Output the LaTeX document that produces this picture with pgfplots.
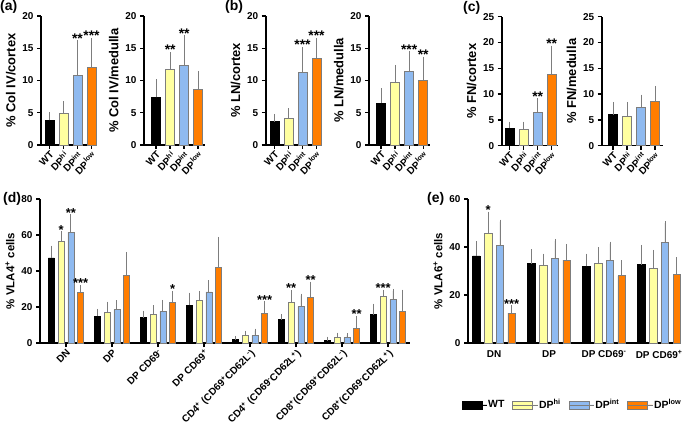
\documentclass[border=0pt]{standalone}
\usepackage{fontspec}
\setmainfont{Liberation Sans}
\usepackage{pgfplots}
\usepackage{pgfplotstable}
\pgfplotsset{compat=1.18}

\definecolor{chi}{RGB}{255,255,160}
\definecolor{cint}{RGB}{143,186,240}
\definecolor{clow}{RGB}{255,125,0}
\definecolor{cerr}{RGB}{125,125,125}

\tikzset{
  star/.style={anchor=south, inner sep=0pt, yshift=-1bp, font=\bfseries\fontsize{14}{14}\selectfont},
  starsm/.style={star, font=\bfseries\fontsize{13}{13}\selectfont},
}

\pgfplotsset{
  panel/.style={
    scale only axis, ybar, ymin=0, clip=false,
    axis lines*=left, axis line style={line width=1.6bp, -},
    tick align=outside, tick pos=left, major tick length=4bp,
    tick style={black, line width=1.4bp},
    /pgf/number format/assume math mode=true,
    ticklabel style={font=\bfseries\fontsize{10}{11}\selectfont},
    ylabel style={font=\bfseries\fontsize{13}{14}\selectfont},
  },
  small/.style={
    panel, height=129bp, bar width=9bp, bar shift=0pt,
    xtick={0,1,2,3},
    xticklabels={WT, DP\textsuperscript{hi}, DP\textsuperscript{int}, DP\textsuperscript{low}},
    xticklabel style={rotate=45, anchor=north east, inner sep=1bp},
  },
  eb/.style={error bars/y dir=plus, error bars/y explicit,
    error bars/error bar style={cerr, line width=0.8bp},
    error bars/error mark options={cerr, line width=0.8bp, mark size=2bp}},
  wt/.style={fill=black, draw=black, line width=0.7bp, eb},
  hi/.style={fill=chi, draw=cerr, line width=0.7bp, eb},
  int/.style={fill=cint, draw=cerr, line width=0.7bp, eb},
  low/.style={fill=clow, draw=cerr, line width=0.7bp, eb},
}

% panel (d): % VLA4+ cells, mean and SD (upper)
\pgfplotstableread{
g wt ewt hi ehi int eint low elow
0 47.3 5.7 56.6 4.3 61.4 8.9 28.0 3.2
1 15.0 2.8 17.1 4.8 18.6 4.0 37.7 11.8
2 14.1 2.8 16.0 4.0 17.6 5.2 22.6 5.2
3 21.0 5.9 23.7 4.1 28.4 5.4 42.1 15.8
4 1.9 0.9 4.1 1.7 4.3 2.6 16.3 5.8
5 13.0 2.0 22.4 6.0 20.2 6.1 25.4 7.6
6 1.5 0.9 3.0 1.6 3.0 1.3 8.3 5.6
7 15.8 5.0 25.8 2.8 24.1 4.8 17.4 11.2
}\dtab

% panel (e): % VLA6+ cells
\pgfplotstableread{
g wt ewt hi ehi int eint low elow
0 36.3 5.2 45.8 8.1 40.7 9.9 12.4 2.4
1 33.1 5.2 32.3 4.1 35.2 7.4 34.5 6.0
2 31.9 4.5 33.1 5.9 34.3 7.1 28.0 5.6
3 32.7 7.4 31.2 6.8 41.8 8.1 28.7 6.1
}\etab

\begin{document}
\begin{tikzpicture}

% ---------- (a)
\begin{axis}[small, at={(41bp,287bp)}, anchor=south west, width=56bp,
  xmin=-0.607, xmax=3.393, ymax=20, ytick={0,5,...,20}, ylabel={\% Col IV/cortex}]
\addplot[wt] coordinates {(0,3.8) +- (0,1.0)};
\addplot[hi] coordinates {(1,4.9) +- (0,1.6)};
\addplot[int] coordinates {(2,10.8) +- (0,5.1)};
\addplot[low] coordinates {(3,12.1) +- (0,4.2)};
\node[star] at (axis cs:2,15.9) {**};
\node[star] at (axis cs:3,16.3) {***};
\end{axis}

\begin{axis}[small, at={(144bp,287bp)}, anchor=south west, width=61bp,
  xmin=-0.871, xmax=3.486, ymax=20, ytick={0,5,...,20}, ylabel={\% Col IV/medulla}]
\addplot[wt] coordinates {(0,7.4) +- (0,2.5)};
\addplot[hi] coordinates {(1,11.7) +- (0,2.4)};
\addplot[int] coordinates {(2,12.4) +- (0,4.3)};
\addplot[low] coordinates {(3,8.6) +- (0,2.6)};
\node[star] at (axis cs:1,14.1) {**};
\node[star] at (axis cs:2,16.7) {**};
\end{axis}

% ---------- (b)
\begin{axis}[small, at={(265.7bp,287bp)}, anchor=south west, width=56bp,
  xmin=-0.629, xmax=3.371, ymax=20, ytick={0,5,...,20}, ylabel={\% LN/cortex}]
\addplot[wt] coordinates {(0,3.6) +- (0,0.9)};
\addplot[hi] coordinates {(1,4.2) +- (0,1.2)};
\addplot[int] coordinates {(2,11.2) +- (0,3.7)};
\addplot[low] coordinates {(3,13.5) +- (0,2.8)};
\node[star] at (axis cs:2,14.9) {***};
\node[star] at (axis cs:3,16.3) {***};
\end{axis}

\begin{axis}[small, at={(369bp,287bp)}, anchor=south west, width=61bp,
  xmin=-0.871, xmax=3.486, ymax=20, ytick={0,5,...,20}, ylabel={\% LN/medulla}]
\addplot[wt] coordinates {(0,6.5) +- (0,2.0)};
\addplot[hi] coordinates {(1,9.7) +- (0,2.4)};
\addplot[int] coordinates {(2,11.4) +- (0,2.8)};
\addplot[low] coordinates {(3,10.1) +- (0,3.3)};
\node[star] at (axis cs:2,14.2) {***};
\node[star] at (axis cs:3,13.4) {**};
\end{axis}

% ---------- (c)
\begin{axis}[small, at={(501.7bp,286.3bp)}, anchor=south west, width=56.6bp,
  xmin=-0.571, xmax=3.471, ymax=25, ytick={0,5,...,25}, ylabel={\% FN/cortex}]
\addplot[wt] coordinates {(0,3.4) +- (0,0.9)};
\addplot[hi] coordinates {(1,3.2) +- (0,1.1)};
\addplot[int] coordinates {(2,6.5) +- (0,2.3)};
\addplot[low] coordinates {(3,13.9) +- (0,5.1)};
\node[star] at (axis cs:2,8.8) {**};
\node[star] at (axis cs:3,19.0) {**};
\end{axis}

\begin{axis}[small, at={(601.7bp,286.3bp)}, anchor=south west, width=61.3bp,
  xmin=-0.807, xmax=3.571, ymax=25, ytick={0,5,...,25}, ylabel={\% FN/medulla}]
\addplot[wt] coordinates {(0,6.0) +- (0,2.1)};
\addplot[hi] coordinates {(1,5.7) +- (0,2.4)};
\addplot[int] coordinates {(2,7.5) +- (0,2.0)};
\addplot[low] coordinates {(3,8.5) +- (0,2.7)};
\end{axis}

% ---------- (d)
\begin{axis}[panel, at={(40bp,89bp)}, anchor=south west, width=370bp, height=144bp,
  bar width=0.13, xmin=-0.565, xmax=7.478, ymax=80, ytick={0,20,...,80},
  xtick={0,...,7},
  xticklabels={{DN},{DP},{DP CD69\textsuperscript{-}},{DP CD69\textsuperscript{+}},
    {CD4\textsuperscript{+} (CD69\textsuperscript{+}CD62L\textsuperscript{-})},
    {CD4\textsuperscript{+} (CD69\textsuperscript{-}CD62L\textsuperscript{+})},
    {CD8\textsuperscript{+}(CD69\textsuperscript{+}CD62L\textsuperscript{-})},
    {CD8\textsuperscript{+}(CD69\textsuperscript{-}CD62L\textsuperscript{+})}},
  xticklabel style={rotate=45, anchor=north east, inner sep=1bp},
  ylabel={\% VLA4\textsuperscript{+} cells},
  ylabel style={font=\bfseries\fontsize{11.5}{12}\selectfont}]
\addplot[wt, bar shift=-0.3195] table[x=g, y=wt, y error=ewt] {\dtab};
\addplot[hi, bar shift=-0.1065] table[x=g, y=hi, y error=ehi] {\dtab};
\addplot[int, bar shift=0.1065] table[x=g, y=int, y error=eint] {\dtab};
\addplot[low, bar shift=0.3195] table[x=g, y=low, y error=elow] {\dtab};
\node[starsm] at (axis cs:-0.1065,60.9) {*};
\node[starsm] at (axis cs:0.1065,70.3) {**};
\node[starsm] at (axis cs:0.3195,31.2) {***};
\node[starsm] at (axis cs:2.3195,27.8) {*};
\node[starsm] at (axis cs:4.3195,22.1) {***};
\node[starsm] at (axis cs:4.8935,28.4) {**};
\node[starsm] at (axis cs:5.3195,33.0) {**};
\node[starsm] at (axis cs:6.3195,13.9) {**};
\node[starsm] at (axis cs:6.8935,28.6) {***};
\end{axis}

% ---------- (e)
\begin{axis}[panel, at={(468bp,89bp)}, anchor=south west, width=212bp, height=144bp,
  bar width=0.136, xmin=-0.473, xmax=3.38, ymax=60, ytick={0,20,40,60},
  xtick={0,...,3}, xtick style={draw=none},
  xticklabels={{DN},{DP},{DP CD69\textsuperscript{-}},{DP CD69\textsuperscript{+}}},
  ylabel={\% VLA6\textsuperscript{+} cells},
  ylabel style={font=\bfseries\fontsize{11.5}{12}\selectfont},
  legend columns=4,
  legend style={at={(0.49,-0.43)}, anchor=center, draw=none,
    font=\bfseries\fontsize{10.5}{12}\selectfont,
    nodes={inner sep=1bp},
    /tikz/every even column/.append style={column sep=7bp}},
  legend image code/.code={\draw[#1, line width=0.6bp] (0bp,-4bp) rectangle (20bp,4bp);
    \path (0bp,0bp) -- (25bp,0bp);}]
\addplot[wt, bar shift=-0.321] table[x=g, y=wt, y error=ewt] {\etab};
\addlegendentry{WT}
\addplot[hi, bar shift=-0.107] table[x=g, y=hi, y error=ehi] {\etab};
\addlegendentry{DP\textsuperscript{hi}}
\addplot[int, bar shift=0.107] table[x=g, y=int, y error=eint] {\etab};
\addlegendentry{DP\textsuperscript{int}}
\addplot[low, bar shift=0.321] table[x=g, y=low, y error=elow] {\etab};
\addlegendentry{DP\textsuperscript{low}}
\node[starsm] at (axis cs:-0.107,53.9) {*};
\node[starsm] at (axis cs:0.321,14.8) {***};
\end{axis}

% panel letters
\begin{scope}[every node/.style={font=\bfseries\fontsize{14}{14}\selectfont, anchor=west, inner sep=0pt}]
\node at (0bp,425bp) {(a)};
\node at (225bp,425bp) {(b)};
\node at (463bp,424bp) {(c)};
\node at (3bp,233bp) {(d)};
\node at (427bp,233bp) {(e)};
\end{scope}

\pgfresetboundingbox
\useasboundingbox (0bp,0bp) rectangle (685bp,432bp);
\end{tikzpicture}
\end{document}
